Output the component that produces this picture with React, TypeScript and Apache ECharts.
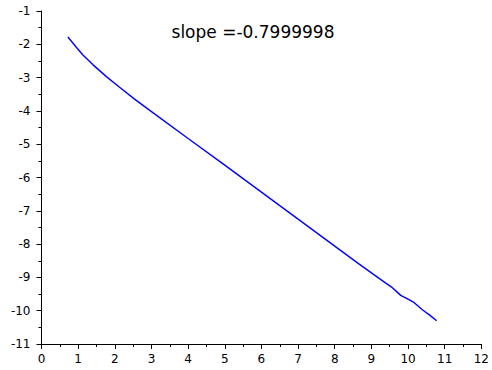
import React, { useEffect, useRef } from "react";
import * as echarts from "echarts";

const xValues = [0.72, 0.95, 1.13, 1.4, 1.77, 2.13, 2.53, 3, 4, 5, 6, 7, 8, 8.63, 9.2, 9.55, 9.68, 9.8, 10.0, 10.17, 10.39, 10.6, 10.78];
const yValues = [-1.78, -2.09, -2.32, -2.61, -2.97, -3.29, -3.64, -4.02, -4.83, -5.63, -6.44, -7.25, -8.06, -8.57, -9.02, -9.29, -9.42, -9.54, -9.65, -9.76, -9.97, -10.14, -10.3];
const titleText = "slope =-0.7999998";

export default function App() {
  const ref = useRef<HTMLDivElement>(null);
  useEffect(() => {
    if (!ref.current) return;
    const chart = echarts.init(ref.current, null, { renderer: "svg" });
    const font = "DejaVu Sans";
    chart.setOption({
      animation: false,
      backgroundColor: "#ffffff",
      grid: { left: 41.5, right: 7.5, top: 11, bottom: 26, containLabel: false },
      graphic: [
        {
          type: "text",
          x: 253,
          y: 32,
          style: {
            text: titleText,
            fontFamily: font,
            fontSize: 17,
            fill: "#000",
            textAlign: "center",
            textVerticalAlign: "middle",
          },
        },
      ],
      xAxis: {
        type: "value",
        min: 0,
        max: 12,
        interval: 1,
        splitLine: { show: false },
        axisLine: { show: true, onZero: false, lineStyle: { color: "#000", width: 1 } },
        axisTick: { show: true, inside: false, length: 5, lineStyle: { color: "#000" } },
        minorTick: { show: true, splitNumber: 2, length: 3, lineStyle: { color: "#000" } },
        axisLabel: { color: "#000", fontFamily: font, fontSize: 12, margin: 9 },
      },
      yAxis: {
        type: "value",
        min: -11,
        max: -1,
        interval: 1,
        splitLine: { show: false },
        axisLine: { show: true, onZero: false, lineStyle: { color: "#000", width: 1 } },
        axisTick: { show: true, inside: false, length: 5, lineStyle: { color: "#000" } },
        minorTick: { show: true, splitNumber: 2, length: 3, lineStyle: { color: "#000" } },
        axisLabel: { color: "#000", fontFamily: font, fontSize: 12, margin: 11 },
      },
      series: [
        {
          type: "line",
          data: xValues.map((x, i) => [x, yValues[i]]),
          showSymbol: false,
          symbol: "none",
          lineStyle: { color: "#0000ff", width: 1.4 },
        },
      ],
    });
    return () => chart.dispose();
  }, []);
  return (
    <div
      ref={ref}
      style={{ position: "fixed", left: 0, top: 0, width: 492, height: 370, background: "#fff" }}
    />
  );
}
